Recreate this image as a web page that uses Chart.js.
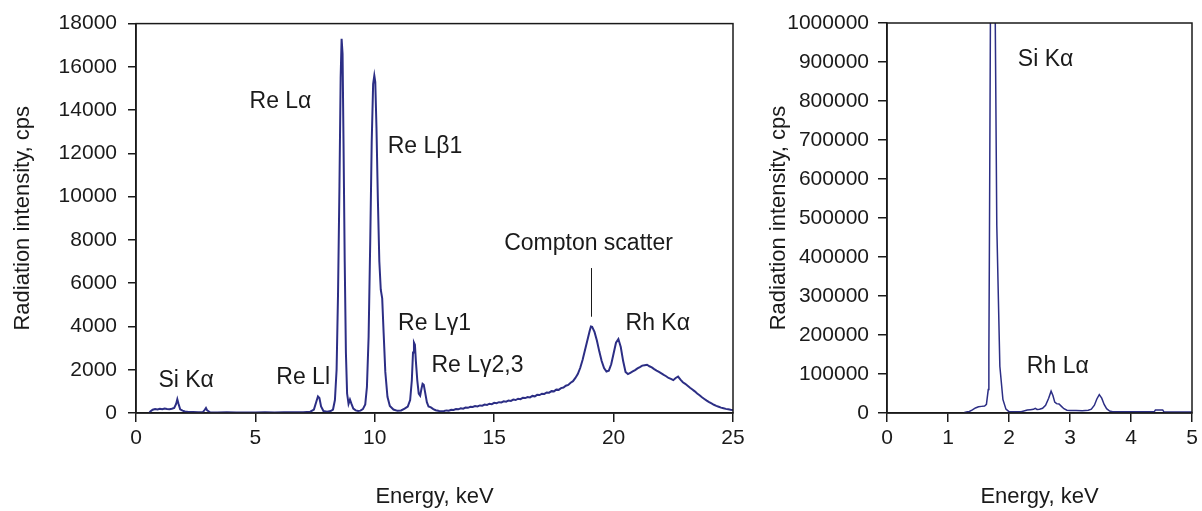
<!DOCTYPE html>
<html>
<head>
<meta charset="utf-8">
<script src="https://cdn.jsdelivr.net/npm/chart.js@4/dist/chart.umd.min.js"></script>
<style>
  html, body { margin: 0; padding: 0; background: #fff; }
  #wrap { position: relative; width: 1202px; height: 511px; overflow: hidden; }
  canvas { position: absolute; top: 0; }
  #left { left: 0; }
  #right { left: 760px; }
</style>
</head>
<body>
<div id="wrap">
  <canvas id="left" width="760" height="511"></canvas>
  <canvas id="right" width="442" height="511"></canvas>
</div>
<script>
// Left spectrum: energy (keV) and intensity (cps)
const leftEnergy = [
  0.55, 0.6, 0.7, 0.8, 0.9, 1.0, 1.1, 1.2, 1.3, 1.4, 1.5, 1.6, 1.68, 1.73, 1.78, 1.85, 1.95,
  2.05, 2.2, 2.4, 2.6, 2.8, 2.88, 2.93, 2.98, 3.1, 3.4, 3.8, 4.2, 4.6, 5.0, 5.4, 5.8, 6.2, 6.6,
  7.0, 7.3, 7.45, 7.55, 7.62, 7.68, 7.75, 7.85, 8.0, 8.15, 8.25, 8.33, 8.40, 8.46, 8.52, 8.57,
  8.61, 8.65, 8.69, 8.74, 8.79, 8.84, 8.90, 8.96, 9.02, 9.1, 9.2, 9.3, 9.4, 9.5, 9.6, 9.67,
  9.74, 9.81, 9.87, 9.93, 9.98, 10.02, 10.07, 10.13, 10.19, 10.25, 10.31, 10.37, 10.44, 10.53,
  10.63, 10.78, 10.95, 11.1, 11.25, 11.38, 11.48, 11.55, 11.6, 11.64, 11.68, 11.72, 11.78,
  11.84, 11.9, 11.95, 12.0, 12.05, 12.1, 12.18, 12.25, 12.35, 12.45, 12.55, 12.7, 12.85,
  12.9, 13.0, 13.1, 13.2, 13.3, 13.4, 13.5, 13.6, 13.7, 13.8, 13.9, 14.0, 14.1, 14.2, 14.3,
  14.4, 14.5, 14.6, 14.7, 14.8, 14.9, 15.0, 15.1, 15.2, 15.3, 15.4, 15.5, 15.6, 15.7, 15.8,
  15.9, 16.0, 16.1, 16.2, 16.3, 16.4, 16.5, 16.6, 16.7, 16.8, 16.9, 17.0, 17.1, 17.2, 17.3,
  17.4, 17.5, 17.6, 17.7, 17.8, 17.9, 18.0, 18.1, 18.2, 18.3, 18.4, 18.5, 18.6, 18.7, 18.8,
  18.9, 19.0, 19.05, 19.1, 19.2, 19.3, 19.4, 19.5, 19.6, 19.7, 19.8, 19.9, 20.0, 20.1, 20.2,
  20.3, 20.4, 20.5, 20.6, 20.7, 20.8, 20.9, 21.0, 21.1, 21.2, 21.3, 21.4, 21.5, 21.6, 21.7,
  21.8, 21.9, 22.0, 22.1, 22.2, 22.3, 22.4, 22.5, 22.6, 22.7, 22.8, 22.9, 23.0, 23.1, 23.2,
  23.3, 23.4, 23.5, 23.6, 23.7, 23.8, 23.9, 24.0, 24.1, 24.2, 24.3, 24.4, 24.5, 24.6, 24.7,
  24.8, 24.9, 25.0
];
const leftCounts = [
  0, 70, 150, 185, 165, 195, 175, 205, 185, 170, 195, 230, 420, 640, 430, 170, 110,
  70, 50, 45, 35, 40, 150, 230, 120, 35, 25, 30, 20, 28, 22, 30, 25, 32, 30,
  40, 60, 160, 520, 770, 700, 300, 90, 60, 90, 160, 600, 2000, 5500, 10500, 15500,
  17300, 16600, 12500, 7000, 2800, 900, 420, 620, 430, 200, 120, 90, 110, 180, 400, 1200,
  3500, 8000, 12500, 15200, 15600, 15300, 13200, 9800, 7000, 5700, 5300, 3700, 1900, 750,
  320, 160, 100, 120, 200, 300, 600, 1500, 2800, 3250, 3150, 2400, 1500,
  900, 800, 1100, 1350, 1300, 1000, 500, 300, 260, 180, 130, 90, 80,
  90, 120, 105, 150, 140, 180, 170, 215, 200, 250, 240, 290, 275, 320, 305,
  350, 340, 390, 375, 430, 410, 470, 455, 500, 490, 540, 525, 580, 560, 620,
  600, 660, 640, 700, 690, 740, 720, 790, 770, 840, 830, 890, 880, 950, 940,
  1010, 1000, 1080, 1070, 1150, 1180, 1260, 1300, 1400, 1470, 1620, 1800, 2080, 2450, 2900,
  3350, 3800, 4000, 3980, 3750, 3350, 2850, 2400, 2080, 1920, 1960, 2250, 2750, 3250, 3420,
  3050, 2400, 1900, 1800, 1860, 1920, 1980, 2060, 2120, 2190, 2210, 2230, 2160, 2110, 2030,
  1960, 1900, 1830, 1760, 1700, 1620, 1580, 1520, 1620, 1680, 1540, 1420, 1350, 1260, 1170,
  1090, 1000, 900, 820, 730, 650, 570, 500, 440, 380, 330, 290, 250, 220, 190,
  170, 150, 140
];

// Right spectrum (low-energy region)
const rightEnergy = [
  1.26, 1.3, 1.35, 1.4, 1.45, 1.5, 1.55, 1.6, 1.63, 1.66, 1.67, 1.68, 1.695, 1.72, 1.75,
  1.775, 1.80, 1.85, 1.9, 1.95, 2.0, 2.1, 2.2, 2.3, 2.35, 2.4, 2.43, 2.46, 2.5, 2.55, 2.6,
  2.65, 2.69, 2.72, 2.75, 2.78, 2.82, 2.86, 2.9, 2.95, 3.0, 3.1, 3.2, 3.3, 3.35, 3.4, 3.44,
  3.48, 3.52, 3.56, 3.6, 3.65, 3.7, 3.8, 4.0, 4.2, 4.38, 4.4, 4.52, 4.54, 4.7, 5.0
];
const rightCounts = [
  500, 2500, 4000, 8000, 13000, 16000, 17000, 18000, 22000, 60000, 150000, 460000, 1000000, 1400000, 1400000,
  1000000, 480000, 120000, 35000, 10000, 3500, 3000, 3500, 7500, 8500, 9500, 12000, 9000, 9500, 12000, 20000,
  38000, 56000, 45000, 28000, 24000, 23000, 17000, 11000, 7000, 6500, 6500, 6000, 7000, 10000, 20000, 36000,
  47000, 38000, 22000, 11000, 5000, 3500, 3000, 3000, 3000, 3000, 7500, 7500, 3000, 2500, 2500
];

// Tick values
const leftXTicks = [0, 5, 10, 15, 20, 25];
const leftYTicks = [0, 2000, 4000, 6000, 8000, 10000, 12000, 14000, 16000, 18000];
const rightXTicks = [0, 1, 2, 3, 4, 5];
const rightYTicks = [0, 100000, 200000, 300000, 400000, 500000, 600000, 700000, 800000, 900000, 1000000];

// Peak labels (text)
const leftPeakNames = ['Si K\u03b1', 'Re Ll', 'Re L\u03b1', 'Re L\u03b21', 'Re L\u03b31', 'Re L\u03b32,3', 'Compton scatter', 'Rh K\u03b1'];
const rightPeakNames = ['Si K\u03b1', 'Rh L\u03b1'];

const FONT = 'Liberation Sans, Arial, Helvetica, sans-serif';
const INK = '#1a1a1a';
const LINE = '#2c2e85';

// where each label sits, in data units (energy, cps)
const leftNoteAnchors = [[2.1, 1500], [7.0, 1620], [6.05, 14400], [12.1, 12300], [12.5, 4150], [14.3, 2200], [18.95, 7850], [21.85, 4150]];
const rightNoteAnchors = [[2.6, 905000], [2.8, 120000]];

function notesPlugin(names, anchors, leaders) {
  return {
    id: 'notes',
    afterDatasetsDraw(chart) {
      const {ctx, scales: {x, y}} = chart;
      ctx.save();
      ctx.fillStyle = INK;
      ctx.font = '23px ' + FONT;
      ctx.textAlign = 'center';
      ctx.textBaseline = 'middle';
      names.forEach((t, i) => {
        ctx.fillText(t, x.getPixelForValue(anchors[i][0]), y.getPixelForValue(anchors[i][1]));
      });
      ctx.strokeStyle = INK;
      ctx.lineWidth = 1;
      (leaders || []).forEach(l => {
        const px = Math.round(x.getPixelForValue(l[0])) + 0.5;
        ctx.beginPath();
        ctx.moveTo(px, y.getPixelForValue(l[1]));
        ctx.lineTo(px, y.getPixelForValue(l[2]));
        ctx.stroke();
      });
      ctx.restore();
    }
  };
}

const boxPlugin = {
  id: 'box',
  afterDraw(chart) {
    const a = chart.chartArea;
    const ctx = chart.ctx;
    ctx.save();
    ctx.strokeStyle = INK;
    ctx.lineWidth = 1.5;
    ctx.strokeRect(a.left, a.top, a.right - a.left, a.bottom - a.top);
    ctx.restore();
  }
};

function makeChart(id, energy, counts, o) {
  const pts = energy.map((e, i) => ({x: e, y: counts[i]}));
  return new Chart(document.getElementById(id), {
    type: 'line',
    data: {
      datasets: [{
        data: pts,
        borderColor: LINE,
        borderWidth: o.lineWidth,
        pointRadius: 0,
        tension: 0,
        fill: false
      }]
    },
    options: {
      responsive: false,
      animation: false,
      events: [],
      layout: {padding: {left: 0, right: o.padRight, top: 23, bottom: 0}},
      plugins: {legend: {display: false}, tooltip: {enabled: false}},
      scales: {
        x: {
          type: 'linear',
          min: o.xTicks[0],
          max: o.xTicks[o.xTicks.length - 1],
          afterBuildTicks: s => { s.ticks = o.xTicks.map(v => ({value: v})); },
          afterFit: s => { s.height = 98; },
          grid: {drawOnChartArea: false, drawTicks: true, tickLength: 9, color: INK, lineWidth: 1.5},
          border: {display: true, color: INK, width: 1.5},
          ticks: {color: INK, font: {family: FONT, size: 21}, padding: 4, maxRotation: 0,
                  callback: v => String(v)},
          title: {display: true, text: 'Energy, keV', color: INK,
                  font: {family: FONT, size: 22, lineHeight: 1}, padding: {top: 0, bottom: 3}}
        },
        y: {
          min: o.yTicks[0],
          max: o.yTicks[o.yTicks.length - 1],
          afterBuildTicks: s => { s.ticks = o.yTicks.map(v => ({value: v})); },
          afterFit: s => { s.width = o.yWidth; },
          grid: {drawOnChartArea: false, drawTicks: true, tickLength: o.yTick, color: INK, lineWidth: 1.5},
          border: {display: true, color: INK, width: 1.5},
          ticks: {color: INK, font: {family: FONT, size: 21}, padding: o.yPad,
                  callback: v => String(v)},
          title: {display: true, text: 'Radiation intensity, cps', color: INK,
                  font: {family: FONT, size: 22, lineHeight: 1}, padding: {top: o.titlePad, bottom: 0}}
        }
      }
    },
    plugins: [boxPlugin, notesPlugin(o.names, o.anchors, o.leaders)]
  });
}

makeChart('left', leftEnergy, leftCounts, {
  lineWidth: 2, padRight: 27, yWidth: 136, yTick: 8, yPad: 11, titlePad: 12,
  xTicks: leftXTicks, yTicks: leftYTicks,
  names: leftPeakNames, anchors: leftNoteAnchors,
  leaders: [[19.05, 6700, 4450]]
});

makeChart('right', rightEnergy, rightCounts, {
  lineWidth: 1.5, padRight: 10, yWidth: 127, yTick: 9, yPad: 9, titlePad: 8,
  xTicks: rightXTicks, yTicks: rightYTicks,
  names: rightPeakNames, anchors: rightNoteAnchors
});
</script>
</body>
</html>
